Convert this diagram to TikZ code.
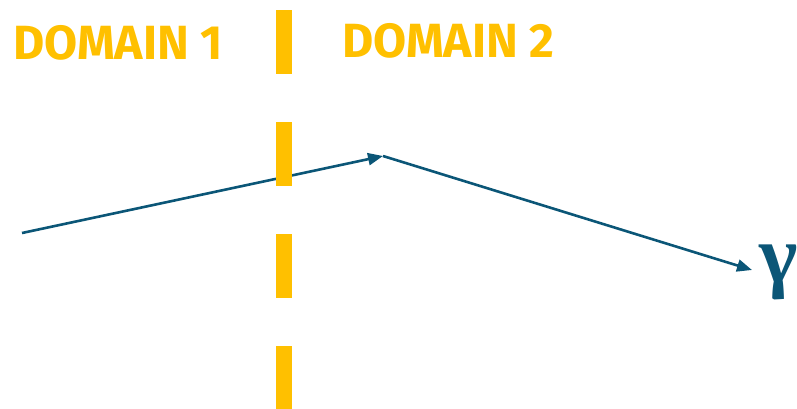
\documentclass[tikz,border=0pt]{standalone}
\usepackage{fontspec}
\setsansfont{Fira Sans}
\newfontfamily\greekfont{Liberation Serif}
\usetikzlibrary{arrows.meta}
\definecolor{dgold}{HTML}{FFC000}
\definecolor{ray}{HTML}{0B5677}
\begin{document}
\begin{tikzpicture}[x=1pt,y=-1pt,
  ray/.style={draw=ray,line width=2.6pt,-{Triangle[length=15pt,width=12pt]}},
  label/.style={text=dgold,font=\sffamily\bfseries\fontsize{48}{48}\selectfont,inner sep=0pt,anchor=base west},
  border/.style={draw=dgold,line width=16pt,dash pattern=on 64pt off 48pt}]
\useasboundingbox (0,0) rectangle (797,408);
\coordinate (s) at (22,233);
\coordinate (k) at (383,156);
\coordinate (e) at (752,270);
\draw[ray] (s) -- (k);
\draw[ray] (k) -- (e);
\node[text=ray,inner sep=0pt,anchor=base west,font=\greekfont\bfseries\fontsize{82}{82}\selectfont] (g) at (759,282) {γ};
\coordinate (bt) at (284,10);
\coordinate (bb) at (284,420);
\draw[border] (bt) -- (bb);
\node[label] (d1) at (13,59) {DOMAIN 1};
\node[label] (d2) at (342,57) {DOMAIN 2};
\end{tikzpicture}
\end{document}
